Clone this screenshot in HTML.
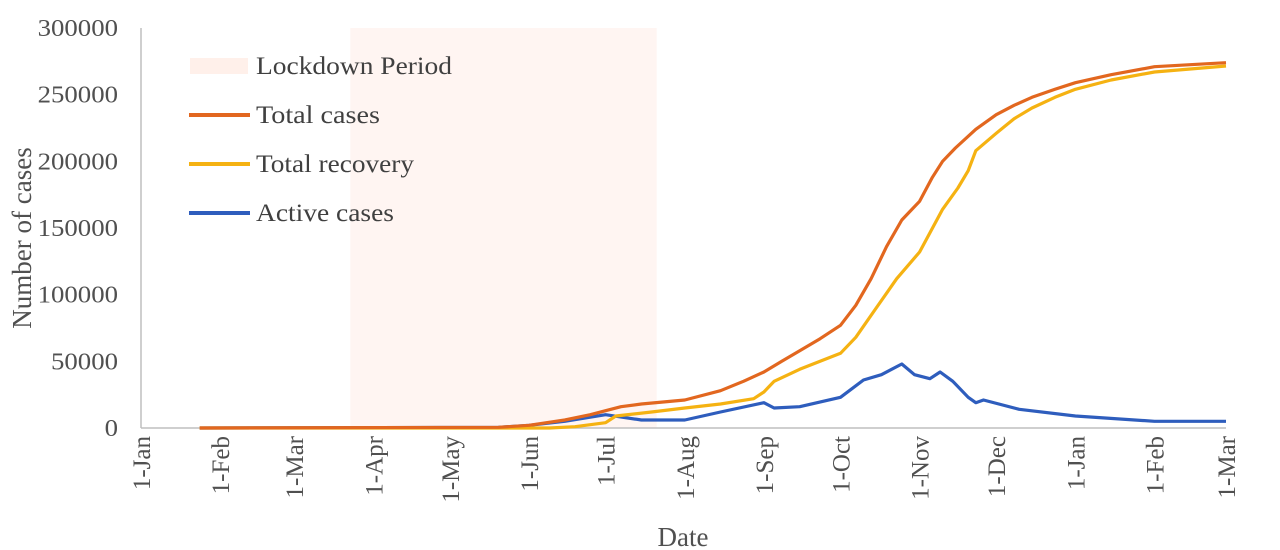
<!DOCTYPE html>
<html><head><meta charset="utf-8"><style>
html,body{margin:0;padding:0;background:#fff;}
svg{display:block;font-family:"Liberation Serif",serif;}
</style></head><body>
<svg id="chart" width="1280" height="550" viewBox="0 0 1280 550"></svg>
<script>
const monthLabels = ["1-Jan","1-Feb","1-Mar","1-Apr","1-May","1-Jun","1-Jul","1-Aug","1-Sep","1-Oct","1-Nov","1-Dec","1-Jan","1-Feb","1-Mar"];
const monthDays = [0,31,60,91,121,152,182,213,244,274,305,335,366,397,425];
const yTicks = [0,50000,100000,150000,200000,250000,300000];
const lockdown = [82,202];
const totalDays = [23,140,152,166,176,182,188,196,213,227,236,244,251,258,266,274,280,286,292,298,301,305,310,314,319,327,335,342,349,358,366,380,397,425];
const totalVals = [0,500,2000,6000,10000,13000,16000,18000,21000,28000,35000,42000,50000,58000,67000,77000,92000,112000,136000,156000,162000,170000,188000,200000,210000,224000,235000,242000,248000,254000,259000,265000,271000,274000];
const recDays = [23,160,170,182,186,200,213,227,240,244,248,258,266,274,280,288,296,305,314,320,324,327,335,342,349,358,366,380,397,425];
const recVals = [0,0,1000,4000,9000,12000,15000,18000,22000,27000,35000,44000,50000,56000,68000,90000,112000,132000,164000,180000,193000,208000,221000,232000,240000,248000,254000,261000,267000,271500];
const actDays = [23,140,152,166,182,196,213,227,244,248,258,274,283,290,298,303,309,313,318,324,327,330,344,366,397,425];
const actVals = [0,500,2000,5000,10000,6000,6000,12000,19000,15000,16000,23000,36000,40000,48000,40000,37000,42000,35000,23000,19000,21000,14000,9000,5000,5000];

const X0=141, X1=1226, Y0=428, Y1=28;
const xs = d => X0 + d*(X1-X0)/425;
const ys = v => Y0 - v*(Y0-Y1)/300000;
const NS="http://www.w3.org/2000/svg";
const svg=document.getElementById('chart');
function mk(tag,attrs,parent){const e=document.createElementNS(NS,tag);for(const k in attrs)e.setAttribute(k,attrs[k]);(parent||svg).appendChild(e);return e;}

const band=mk('rect',{x:xs(lockdown[0]),y:Y1,width:xs(lockdown[1])-xs(lockdown[0]),height:Y0-Y1,fill:'#fff5f2'});



const ax=mk('line',{x1:X0,y1:Y1,x2:X0,y2:Y0,stroke:'#bfbfbf','stroke-width':1.5});


const bx=mk('line',{x1:X0,y1:Y0,x2:X1,y2:Y0,stroke:'#bfbfbf','stroke-width':1.5});



yTicks.forEach(v=>{
  const t=mk('text',{x:118,y:ys(v)+8,'text-anchor':'end','font-size':24,fill:'#505050'});
  t.textContent=v;
  const n=String(v).length;
  t.setAttribute('textLength',n*13.4);
  t.setAttribute('lengthAdjust','spacingAndGlyphs');
  
  
});
monthLabels.forEach((m,i)=>{
  const x=xs(monthDays[i]);
  const t=mk('text',{x:0,y:0,'text-anchor':'end','font-size':25,fill:'#505050',transform:`translate(${x+9},436) rotate(-90)`});
  t.textContent=m;
  
  
});
const yt=mk('text',{x:0,y:0,'text-anchor':'middle','font-size':27,fill:'#505050',transform:'translate(31,238) rotate(-90)'});
yt.textContent='Number of cases';


const xt=mk('text',{x:683,y:546,'text-anchor':'middle','font-size':27,fill:'#505050'});
xt.textContent='Date';



function line(days,vals,color,name){
  const d=days.map((dd,i)=>(i?'L':'M')+xs(dd).toFixed(1)+','+ys(vals[i]).toFixed(1)).join(' ');
  const p=mk('path',{d:d,fill:'none',stroke:color,'stroke-width':3.2,'stroke-linejoin':'round'});
  
  
}
line(actDays,actVals,'#2e5dbd','active-cases-line');
line(recDays,recVals,'#f5b212','total-recovery-line');
line(totalDays,totalVals,'#e2671f','total-cases-line');

const legend=[['Lockdown Period','#fff0ea','rect',196],['Total cases','#e2671f','line',124],['Total recovery','#f5b212','line',158],['Active cases','#2e5dbd','line',138]];
const lg=mk('g',{});


legend.forEach((l,i)=>{
  const y=66+i*49;
  const g=mk('g',{},lg);
  
  
  if(l[2]==='rect') mk('rect',{x:190,y:y-8,width:58,height:16,fill:l[1]},g);
  else mk('line',{x1:189,y1:y,x2:250,y2:y,stroke:l[1],'stroke-width':4},g);
  const t=mk('text',{x:256,y:y+8,'font-size':25,fill:'#404040',textLength:l[3],lengthAdjust:'spacingAndGlyphs'},g);
  t.textContent=l[0];
});
</script>
</body></html>
